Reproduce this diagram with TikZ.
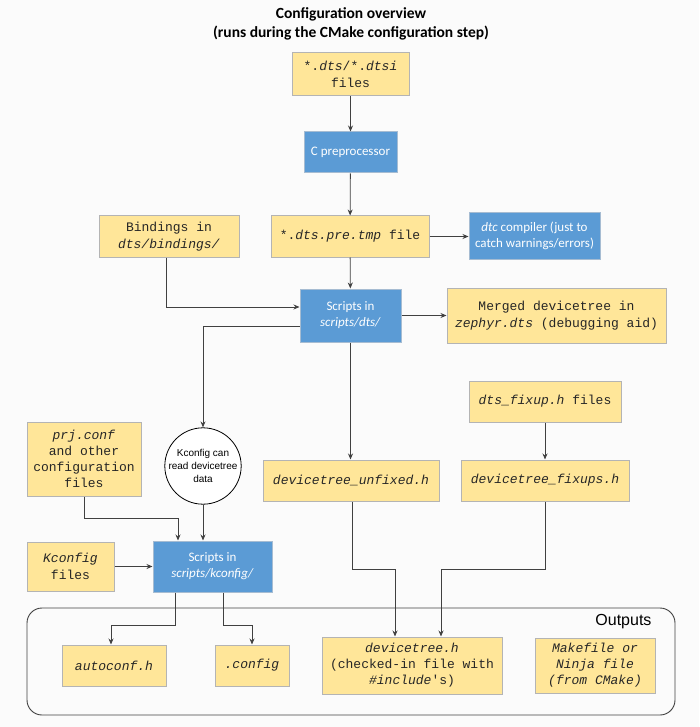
\documentclass[tikz,border=0pt]{standalone}
\usepackage{fontspec}
\setmainfont{Carlito}
\setmonofont{Liberation Mono}
\newfontfamily\arialf{Liberation Sans}
\usetikzlibrary{arrows.meta}
\definecolor{ybox}{HTML}{FFE699}
\definecolor{ybord}{HTML}{B4B4B4}
\definecolor{bbox}{HTML}{5B9BD5}
\definecolor{bbord}{HTML}{A6BCD2}
\definecolor{lnc}{HTML}{404040}
\definecolor{bgc}{HTML}{FBFBFB}
\begin{document}
\begin{tikzpicture}[x=1pt,y=-1pt,
 ybx/.style={draw=ybord,fill=ybox,line width=1pt,inner sep=0pt,align=center,font=\ttfamily\fontsize{13}{16.5}\selectfont,text=black!85},
 bbx/.style={draw=bbord,fill=bbox,line width=1pt,inner sep=0pt,align=center,font=\fontsize{13}{16}\selectfont,text=white},
 arr/.style={draw=lnc,line width=0.8pt,-{Stealth[length=6pt,width=5pt]}}]
\useasboundingbox[fill=bgc] (0,0) rectangle (699,727);

\node[font=\bfseries\fontsize{15.5}{19}\selectfont,align=center] (title) at (351,24) {Configuration overview\\(runs during the CMake configuration step)};

\node[ybx,minimum width=117pt,minimum height=43pt] (dts) at (350.5,74.5) {*.\textit{dts}/*.\textit{dtsi}\\files};
\node[bbx,minimum width=93pt,minimum height=41pt] (cpp) at (350.5,152.5) {C preprocessor};
\node[ybx,minimum width=140pt,minimum height=41pt] (bind) at (169,236.5) {Bindings in\\\textit{dts/bindings/}};
\node[ybx,minimum width=158pt,minimum height=41pt] (pretmp) at (350,236.5) {*.\textit{dts.pre.tmp} file};
\node[bbx,minimum width=131pt,minimum height=46pt] (dtc) at (534.5,236) {\textit{dtc} compiler (just to\\catch warnings/errors)};
\node[bbx,minimum width=101pt,minimum height=53pt] (sdts) at (350.5,315.5) {Scripts in\\\textit{scripts/dts/}};
\node[ybx,minimum width=219pt,minimum height=55pt] (merged) at (556.5,315.5) {Merged devicetree in\\\textit{zephyr.dts} (debugging aid)};
\node[draw=black,fill=white,circle,minimum size=74pt,inner sep=0pt,align=center,font=\arialf\fontsize{10}{13}\selectfont,line width=0.8pt] (circ) at (203,466) {Kconfig can\\read devicetree\\data};
\node[ybx,minimum width=114pt,minimum height=74pt,font=\ttfamily\fontsize{13}{16}\selectfont] (prj) at (84,459) {\textit{prj.conf}\\and other\\configuration\\files};
\node[ybx,minimum width=152pt,minimum height=41pt] (fixup) at (545,401.5) {\textit{dts\_fixup.h} files};
\node[ybx,minimum width=176pt,minimum height=41pt] (unfixed) at (351,480.5) {\textit{devicetree\_unfixed.h}};
\node[ybx,minimum width=168pt,minimum height=41pt] (fixups) at (545,480.5) {\textit{devicetree\_fixups.h}};
\node[ybx,minimum width=87pt,minimum height=49pt] (kfiles) at (70.5,566.5) {\textit{Kconfig}\\files};
\node[bbx,minimum width=119pt,minimum height=51pt] (skc) at (212.5,566.5) {Scripts in\\\textit{scripts/kconfig/}};

\node[draw=lnc,rounded corners=15pt,minimum width=648pt,minimum height=107pt,line width=0.9pt] (outbox) at (351,661.5) {};
\node[anchor=east,font=\arialf\fontsize{16}{16}\selectfont] (outlbl) at (655,622) {Outputs};
\node[ybx,minimum width=104pt,minimum height=41pt] (autoconf) at (114,665.5) {\textit{autoconf.h}};
\node[ybx,minimum width=74pt,minimum height=41pt] (config) at (252,665.5) {\textit{.config}};
\node[ybx,minimum width=180pt,minimum height=57pt,font=\ttfamily\fontsize{13}{16}\selectfont] (dth) at (412,665.5) {\textit{devicetree.h}\\(checked-in file with\\\textit{\#include}'s)};
\node[ybx,minimum width=120pt,minimum height=55pt,font=\ttfamily\itshape\fontsize{13}{16}\selectfont] (make) at (595,665.5) {Makefile or\\Ninja file\\(from CMake)};

\draw[arr] (dts) -- (cpp);
\draw[arr] (cpp) -- (pretmp);
\draw[arr] (pretmp.east) -- (pretmp.east -| dtc.west);
\draw[arr] ([xshift=-3pt]bind.south) |- ([yshift=8.5pt]sdts.west);
\draw[arr] (pretmp) -- (sdts);
\draw[arr] (sdts.east) -- (sdts.east -| merged.west);
\draw[arr] ([yshift=-10.5pt]sdts.west) -| (circ.north);
\draw[arr] (sdts.south) -- (sdts.south |- unfixed.north);
\draw[arr] (fixup) -- (fixups);
\coordinate (j1) at (178,518);
\draw[arr] (prj.south) |- (j1) -- (j1 |- skc.north);
\draw[arr] (circ.south) -- (circ.south |- skc.north);
\draw[arr] (kfiles.east) -- (kfiles.east -| skc.west);
\coordinate (k1) at (175,625);
\draw[arr] (k1 |- skc.south) -- (k1) -| ([xshift=-3pt]autoconf.north);
\coordinate (k2) at (223,625);
\draw[arr] (k2 |- skc.south) -- (k2) -| (config.north);
\coordinate (d1) at (395,569);
\draw[arr] ([xshift=1pt]unfixed.south) |- (d1) -- (d1 |- dth.north);
\coordinate (d2) at (441,569);
\draw[arr] (fixups.south) |- (d2) -- (d2 |- dth.north);
\end{tikzpicture}
\end{document}
